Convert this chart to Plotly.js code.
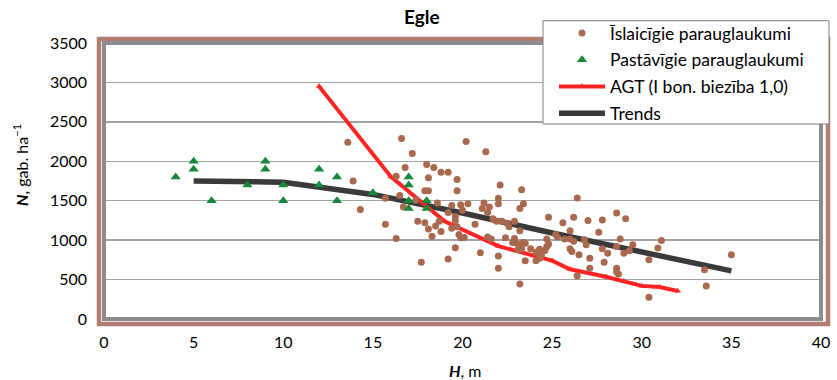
<!DOCTYPE html>
<html>
<head>
<meta charset="utf-8">
<script src="https://cdn.plot.ly/plotly-3.0.1.min.js"></script>
<style>html,body{margin:0;padding:0;background:#fff;}#chart{width:837px;height:380px;}</style>
</head>
<body>
<div id="chart"></div>
<script>
// Īslaicīgie parauglaukumi (temporary plots)
var tempH = [13.6,16.6,16.8,13.9,16.3,15.7,16.5,14.3,16.7,15.7,16.3,17.2,21.3,18.0,18.4,18.8,19.2,18.1,19.7,22.1,17.9,18.1,19.7,22.0,23.3,17.4,18.6,19.4,19.9,20.3,21.2,22.0,20.0,21.1,21.4,21.5,19.2,19.6,19.6,17.5,17.9,18.7,18.5,18.1,18.8,19.7,20.7,21.7,21.9,22.2,22.5,22.6,22.9,18.3,19.8,19.9,20.1,21.4,21.6,22.4,22.9,23.0,19.6,21.0,22.0,19.2,23.1,17.7,19.4,23.2,23.4,23.2,24.8,25.6,26.2,27.0,26.0,25.2,25.3,25.7,26.0,26.2,26.8,26.9,27.6,22.8,23.3,23.4,23.5,23.3,23.8,24.1,24.3,24.4,24.6,24.7,24.8,24.7,22.0,23.5,24.1,24.3,23.2,27.1,27.1,26.4,26.0,26.1,26.5,28.6,27.8,29.1,28.8,29.5,31.1,30.9,28.6,27.8,28.1,29.0,29.3,30.4,27.9,28.6,28.6,28.7,30.4,33.5,33.6,35.0,26.4,20.2];
var tempN = [2240,2290,1920,1750,1810,1530,1565,1390,1420,1200,1020,2100,2120,1960,1920,1860,1860,1790,1770,1700,1625,1625,1625,1530,1640,1505,1470,1440,1450,1460,1470,1460,1380,1400,1350,1420,1350,1300,1250,1240,1220,1240,1180,1140,1110,1170,1200,1270,1240,1240,1215,1170,1240,1050,1070,1030,1035,1040,1015,1030,1020,960,905,840,800,760,880,720,1150,1400,1460,1120,1290,1220,1290,1250,1120,1070,1040,1015,1015,985,1005,940,1100,970,950,970,960,890,890,845,885,815,870,920,950,1015,645,740,740,770,445,770,645,550,890,855,815,1345,1255,1270,1015,940,995,900,920,890,835,835,865,750,720,645,600,570,275,625,420,815,1535,2250];

// Pastāvīgie parauglaukumi (permanent plots)
var permH = [4,5,5,6,8,9,9,10,10,12,12,13,13,15,17,17,17,17,18,18];
var permN = [1800,2000,1900,1500,1700,2000,1900,1700,1500,1900,1700,1800,1500,1600,1800,1700,1500,1400,1500,1400];

// AGT (I bon. biezība 1,0)
var agtH = [12,16,19,22,25,26,28,29,30,31,32];
var agtN = [2950,1805,1240,925,740,630,535,480,420,405,355];

// Trends
var trendH = [5,10,15,20,25,30,35];
var trendN = [1750,1735,1580,1345,1090,855,610];

var names = ['Īslaicīgie parauglaukumi','Pastāvīgie parauglaukumi','AGT (I bon. biezība 1,0)','Trends'];
var xTicks = [0,5,10,15,20,25,30,35,40];
var yTicks = [0,500,1000,1500,2000,2500,3000,3500];

var FONT = 'Lato, "Open Sans", sans-serif';

var traces = [
  {x: trendH, y: trendN, type:'scatter', mode:'lines', name: names[3], legendrank: 4, legendgroup:'d',
   line:{color:'#3a3a3a', width:5.5}},
  {x: agtH, y: agtN, type:'scatter', mode:'lines+markers', name: names[2], legendrank: 3, legendgroup:'c',
   line:{color:'#ff2323', width:4}, marker:{symbol:'triangle-up', size:6, color:'#ff2323'}},
  {x: tempH, y: tempN, type:'scatter', mode:'markers', name: names[0], legendrank: 1, legendgroup:'a',
   marker:{symbol:'circle', size:7, color:'#a8694f'}},
  {x: permH, y: permN, type:'scatter', mode:'markers', name: names[1], legendrank: 2, legendgroup:'b',
   marker:{symbol:'triangle-up', size:9, color:'#15883a'}}
];

var PW = 717, PH = 276;
var layout = {
  width: 837, height: 380,
  margin: {l:104, r:16, t:43, b:61},
  paper_bgcolor:'#ffffff', plot_bgcolor:'#ffffff',
  font: {family: FONT, size: 16, color:'#000'},
  title: {text:'<b>Egle</b>', x:0.504, xref:'container', y:0.955, yref:'container', yanchor:'middle', xanchor:'center',
          font:{family: FONT, size:19, color:'#000'}},
  showlegend: true,
  legend: {x:(554-104)/PW, y:(319-15)/PH, xanchor:'left', yanchor:'top', xref:'paper', yref:'paper',
           bgcolor:'rgba(0,0,0,0)', bordercolor:'rgba(0,0,0,0)', borderwidth:0,
           font:{family: FONT, size:17.5, color:'#000'}, traceorder:'grouped', tracegroupgap:1, itemwidth:46},
  xaxis: {range:[0,40], tickvals: xTicks, ticktext: xTicks.map(String), showgrid:false, zeroline:false, showline:false,
          ticks:'', tickfont:{family: FONT, size:16, color:'#000'}, ticklabelstandoff: 12, fixedrange:true},
  yaxis: {range:[0,3500], tickvals: yTicks, ticktext: yTicks.map(String), showgrid:true, gridcolor:'#a3a3a3', gridwidth:1.3,
          zeroline:false, showline:false, ticks:'', tickfont:{family: FONT, size:16, color:'#000'}, ticklabelstandoff: 16, fixedrange:true},
  shapes: [
    {type:'rect', xref:'paper', yref:'paper', x0:-5/PW, x1:1+7/PW, y0:-5/PH, y1:1+4/PH,
     line:{color:'rgba(172,118,108,0.95)', width:4.5}, fillcolor:'rgba(0,0,0,0)', layer:'above'},
    {type:'rect', xref:'paper', yref:'paper', x0:0, x1:1, y0:0, y1:1,
     line:{color:'#8c8c90', width:4}, fillcolor:'rgba(0,0,0,0)', layer:'above'},
    // legend box
    {type:'rect', xref:'paper', yref:'paper', x0:(543-104)/PW, x1:(829-104)/PW, y0:(319-124)/PH, y1:(319-20.7)/PH,
     line:{color:'#808080', width:1}, fillcolor:'#ffffff', layer:'above'}
  ],
  annotations: [
    {text:'<b><i>H</i></b>, m', xref:'paper', yref:'paper', x:(465-104)/PW, y:(319-370)/PH, xanchor:'center', yanchor:'middle',
     showarrow:false, font:{family: FONT, size:16, color:'#000'}},
    {text:'<b><i>N</i></b>, gab. ha<sup>−1</sup>', xref:'paper', yref:'paper', x:(20-104)/PW, y:(319-165)/PH, xanchor:'center', yanchor:'middle',
     textangle:-90, showarrow:false, font:{family: FONT, size:16, color:'#000'}}
  ]
};

Plotly.newPlot('chart', traces, layout, {displayModeBar:false, staticPlot:true});
</script>
</body>
</html>
